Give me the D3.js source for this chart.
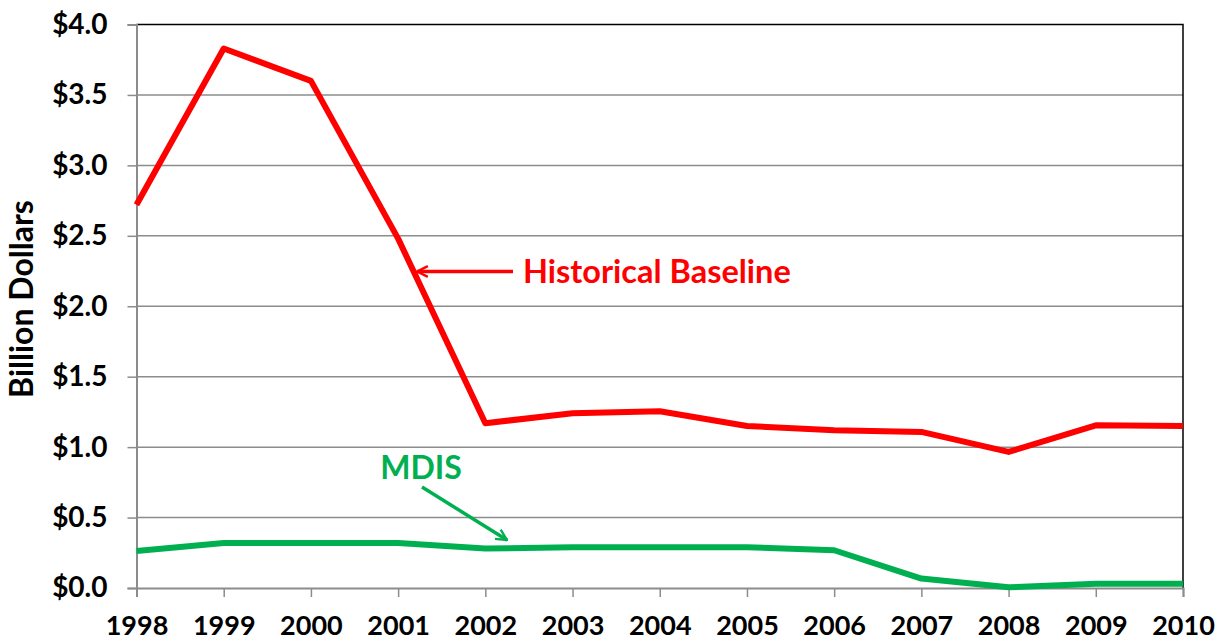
<!DOCTYPE html>
<html lang="en">
<head>
    <meta charset="UTF-8">
    <title>Billion Dollars: Historical Baseline vs MDIS</title>
    <script src="https://d3js.org/d3.v7.min.js"></script>
    <style>
        body { margin: 0; background: #fff; }
        text { font-family: Lato, "Open Sans", sans-serif; font-weight: bold; }
        .grid line { stroke: #8c8c8c; stroke-width: 1.5px; }
    </style>
</head>
<body>
    <script>
        // Data
        const years = [1998, 1999, 2000, 2001, 2002, 2003, 2004, 2005, 2006, 2007, 2008, 2009, 2010];
        const baseline = [2.72, 3.83, 3.60, 2.48, 1.17, 1.24, 1.255, 1.15, 1.12, 1.108, 0.966, 1.155, 1.15];
        const mdis = [0.263, 0.32, 0.32, 0.32, 0.28, 0.29, 0.29, 0.29, 0.268, 0.067, 0.005, 0.031, 0.031];
        const yTicks = [0, 0.5, 1.0, 1.5, 2.0, 2.5, 3.0, 3.5, 4.0];

        const width = 1225, height = 641;
        const margin = { top: 24.5, right: 42, bottom: 53, left: 136.5 };
        const innerW = width - margin.left - margin.right;
        const innerH = height - margin.top - margin.bottom;

        const svg = d3.select("body").append("svg")
            .attr("width", width)
            .attr("height", height);

        const g = svg.append("g")
            .attr("transform", `translate(${margin.left},${margin.top})`);

        const x = d3.scaleLinear().domain([1998, 2010]).range([0, innerW]);
        const y = d3.scaleLinear().domain([0, 4]).range([innerH, 0]);

        // Gridlines
        g.append("g").attr("class", "grid")
            .selectAll("line")
            .data(yTicks.filter(d => d > 0 && d < 4))
            .enter().append("line")
            .attr("x1", 0).attr("x2", innerW)
            .attr("y1", d => y(d)).attr("y2", d => y(d));

        // Plot border (top and right in black)
        g.append("path")
            .attr("d", `M0,0H${innerW}V${innerH}`)
            .attr("fill", "none")
            .attr("stroke", "#000")
            .attr("stroke-width", 1.5);

        // Y axis
        const yAxis = g.append("g")
            .call(d3.axisLeft(y).tickValues(yTicks).tickSize(9).tickPadding(20)
                .tickFormat(d => "$" + d3.format(".1f")(d)));
        yAxis.select(".domain").attr("stroke", "#8c8c8c").attr("stroke-width", 2);
        yAxis.selectAll(".tick line").attr("stroke", "#8c8c8c").attr("stroke-width", 1.5);
        yAxis.selectAll(".tick text").attr("font-size", 28).attr("fill", "#000")
            .attr("font-family", "Lato, sans-serif");

        // X axis
        const xAxis = g.append("g")
            .attr("transform", `translate(0,${innerH})`)
            .call(d3.axisBottom(x).tickValues(years).tickSize(9).tickPadding(19)
                .tickFormat(d3.format("d")));
        xAxis.select(".domain").attr("stroke", "#8c8c8c").attr("stroke-width", 2);
        xAxis.selectAll(".tick line").attr("stroke", "#8c8c8c").attr("stroke-width", 1.5);
        xAxis.selectAll(".tick text").attr("font-size", 27).attr("fill", "#000")
            .attr("font-family", "Lato, sans-serif");

        // Y title
        svg.append("text")
            .attr("transform", `translate(33,299) rotate(-90)`)
            .attr("text-anchor", "middle")
            .attr("font-size", 32)
            .attr("fill", "#000")
            .text("Billion Dollars");

        // Lines
        const line = d3.line()
            .x((d, i) => x(years[i]))
            .y(d => y(d));

        g.append("path")
            .datum(mdis)
            .attr("fill", "none")
            .attr("stroke", "#00b050")
            .attr("stroke-width", 6)
            .attr("stroke-linejoin", "round")
            .attr("d", line);

        g.append("path")
            .datum(baseline)
            .attr("fill", "none")
            .attr("stroke", "#ff0000")
            .attr("stroke-width", 6)
            .attr("stroke-linejoin", "round")
            .attr("d", line);

        // Arrow markers
        const defs = svg.append("defs");
        [["arrowRed", "#ff0000"], ["arrowGreen", "#00b050"]].forEach(([id, c]) => {
            defs.append("marker")
                .attr("id", id)
                .attr("viewBox", "0 0 12 12")
                .attr("refX", 11).attr("refY", 6)
                .attr("markerWidth", 13).attr("markerHeight", 13)
                .attr("markerUnits", "userSpaceOnUse")
                .attr("orient", "auto")
                .append("path")
                .attr("d", "M1,1L11,6L1,11")
                .attr("fill", "none")
                .attr("stroke", c)
                .attr("stroke-width", 2.2);
        });

        // Annotation: Historical Baseline
        svg.append("line")
            .attr("x1", 513).attr("y1", 271.5)
            .attr("x2", 417).attr("y2", 271.5)
            .attr("stroke", "#ff0000").attr("stroke-width", 3.5)
            .attr("marker-end", "url(#arrowRed)");
        svg.append("text")
            .attr("x", 523).attr("y", 283)
            .attr("font-size", 32.5)
            .attr("fill", "#ff0000")
            .text("Historical Baseline");

        // Annotation: MDIS
        svg.append("line")
            .attr("x1", 422).attr("y1", 487)
            .attr("x2", 507).attr("y2", 540)
            .attr("stroke", "#00b050").attr("stroke-width", 3.5)
            .attr("marker-end", "url(#arrowGreen)");
        svg.append("text")
            .attr("x", 421).attr("y", 479)
            .attr("text-anchor", "middle")
            .attr("font-size", 32)
            .attr("fill", "#00b050")
            .text("MDIS");
    </script>
</body>
</html>
